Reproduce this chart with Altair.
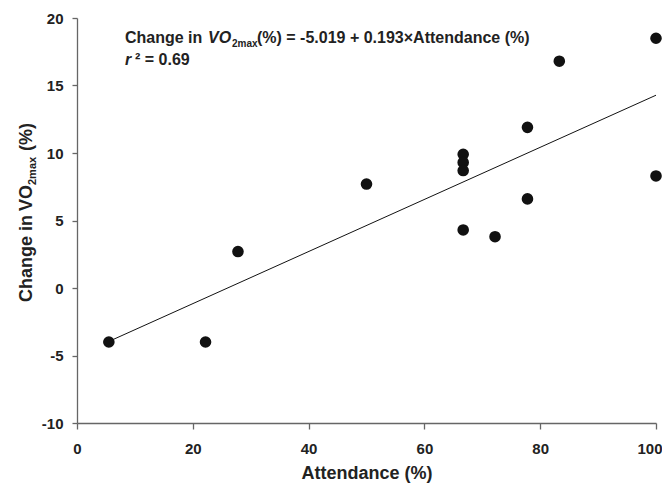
import altair as alt
import pandas as pd

# Data
attendance = [5.5, 22.2, 27.8, 50.0, 66.7, 66.7, 66.7, 66.7, 72.2, 77.8, 77.8, 83.3, 100.0, 100.0]
change_vo2 = [-4.0, -4.0, 2.7, 7.7, 9.9, 9.3, 8.7, 4.3, 3.8, 11.9, 6.6, 16.8, 18.5, 8.3]

# Regression reported on the chart
fit_range = [5.5, 100.0]
intercept = -5.019
slope = 0.193

x_ticks = [0, 20, 40, 60, 80, 100]
y_ticks = [-10, -5, 0, 5, 10, 15, 20]

FONT = "Liberation Sans"
W, H = 579, 405

pts = pd.DataFrame({"att": attendance, "chg": change_vo2})
fit = pd.DataFrame({"att": fit_range})

xscale = alt.Scale(domain=[0, 100], nice=False, zero=False)
yscale = alt.Scale(domain=[-10, 20], nice=False, zero=False)

xaxis = alt.Axis(
    values=x_ticks, tickSize=6, labelPadding=12, title="Attendance (%)",
    titleFontSize=18, titlePadding=8, labelFlush=False,
    labelAlign=alt.condition("datum.value == 100", alt.value("right"), alt.value("center")),
    labelOffset=alt.condition("datum.value == 100", alt.value(6), alt.value(0)),
)
yaxis = alt.Axis(values=y_ticks, tickSize=5, labelPadding=9, title=None,
                 labelExpr="datum.value < 0 ? '-' + abs(datum.value) : '' + datum.value")

points = alt.Chart(pts).mark_circle(size=135, color="#111111", opacity=1).encode(
    x=alt.X("att:Q", scale=xscale, axis=xaxis),
    y=alt.Y("chg:Q", scale=yscale, axis=yaxis),
)

line = alt.Chart(fit).transform_calculate(
    chg=f"{intercept} + {slope} * datum.att"
).mark_line(color="#111111", strokeWidth=1).encode(
    x=alt.X("att:Q", scale=xscale),
    y=alt.Y("chg:Q", scale=yscale),
)

one = pd.DataFrame({"k": [0]})


def txt(s, x, y, size=16, italic=False, angle=0):
    kw = dict(text=s, align="left", baseline="alphabetic", fontSize=size,
              fontWeight="bold", font=FONT, color="#222222")
    if italic:
        kw["fontStyle"] = "italic"
    if angle:
        kw["angle"] = angle
    return alt.Chart(one).mark_text(**kw).encode(x=alt.value(x), y=alt.value(y))


anno = [
    txt("Change in", 48, 25),
    txt("VO", 131, 25, italic=True),
    txt("2max", 155, 29, size=10),
    txt("(%) = -5.019 + 0.193×Attendance (%)", 180, 25),
    txt("r", 48, 47, italic=True),
    txt("² = 0.69", 58, 47),
    # rotated y-axis title
    txt("Change in", -45, 284, size=18, angle=270),
    txt("VO", -45, 193, size=18, angle=270),
    txt("2max", -41, 167, size=11, angle=270),
    txt("(%)", -45, 133, size=18, angle=270),
]

chart = alt.layer(line, points, *anno).properties(
    width=W, height=H,
    autosize=alt.AutoSizeParams(type="none"),
    padding={"left": 69, "top": 10, "right": 6, "bottom": 60},
).configure_view(stroke=None).configure_axis(
    grid=False,
    domainColor="#666666", tickColor="#666666", domainWidth=1.3, tickWidth=1.3,
    labelFont=FONT, labelFontSize=15, labelFontWeight="bold", labelColor="#222222",
    titleFont=FONT, titleFontWeight="bold", titleColor="#222222",
)

chart.save("out.html", embed_options={"renderer": "svg", "actions": False})
